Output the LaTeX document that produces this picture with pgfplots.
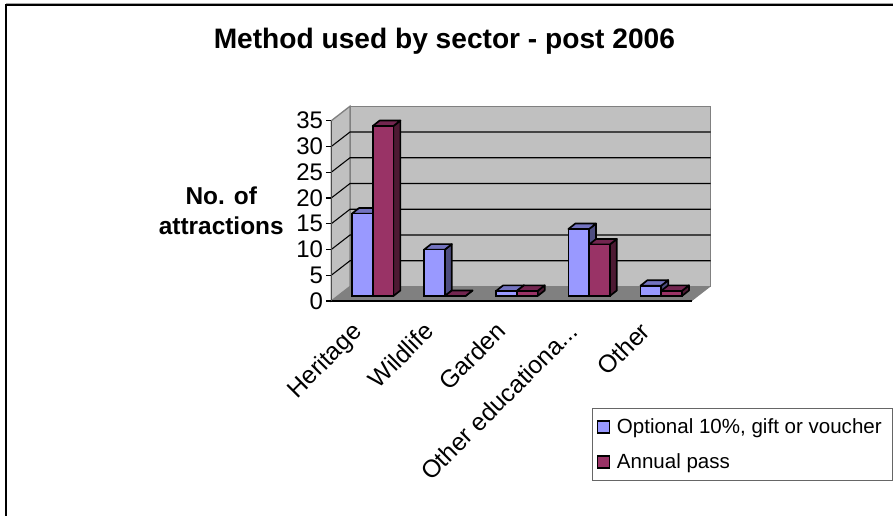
\documentclass[border=0pt]{standalone}
\usepackage{pgfplots}
\usepackage{pgfplotstable}
\usepackage{fontspec}
\setmainfont{Liberation Sans}
\pgfplotsset{compat=1.18}

\pgfplotstableread{
cat opt pass
0   16  33
1   9   0
2   1   1
3   13  10
4   2   1
}\methods

\definecolor{optfront}{HTML}{9999FF}
\definecolor{opttop}{HTML}{7373BF}
\definecolor{optside}{HTML}{4D4D80}
\definecolor{passfront}{HTML}{993366}
\definecolor{passtop}{HTML}{732650}
\definecolor{passside}{HTML}{4D1A33}
\definecolor{wall}{HTML}{C0C0C0}
\definecolor{floorgrey}{HTML}{808080}

% depth of the box, in axis units
\def\dX{0.259}\def\dY{2.81}
% depth of a bar and the raised base it stands on
\def\bX{0.097}\def\bY{1.07}\def\bZ{0.97}
\def\bW{0.287}
\def\edulabel{Other educationa...}

% top and side face of one bar: row, column, left edge offset, side colour, top colour
\newcommand{\barfaces}[5]{%
  \pgfplotstablegetelem{#1}{#2}\of\methods
  \pgfmathsetmacro{\xl}{#1+#3}%
  \pgfmathsetmacro{\xr}{\xl+\bW}%
  \pgfmathsetmacro{\xlb}{\xl+\bX}%
  \pgfmathsetmacro{\xrb}{\xr+\bX}%
  \pgfmathsetmacro{\yb}{\bZ}%
  \pgfmathsetmacro{\ybb}{\bZ+\bY}%
  \pgfmathsetmacro{\yt}{\bZ+\pgfplotsretval}%
  \pgfmathsetmacro{\ytb}{\yt+\bY}%
  \addplot[forget plot,draw=black,line width=1.25pt,fill=#4,line join=round]
    coordinates {(\xr,\yb) (\xrb,\ybb) (\xrb,\ytb) (\xr,\yt)} -- cycle;
  \addplot[forget plot,draw=black,line width=1.25pt,fill=#5,line join=round]
    coordinates {(\xl,\yt) (\xlb,\ytb) (\xrb,\ytb) (\xr,\yt)} -- cycle;
}
% one gridline across the side wall and the back wall
\newcommand{\wallgrid}[1]{%
  \pgfmathsetmacro{\yf}{#1}%
  \pgfmathsetmacro{\yk}{#1+\dY}%
  \pgfmathsetmacro{\xk}{-0.5+\dX}%
  \pgfmathsetmacro{\xe}{4.5+\dX}%
  \addplot[forget plot,black,line width=0.8pt] coordinates {(-0.5,\yf) (\xk,\yk) (\xe,\yk)};
}

\begin{document}
\begin{tikzpicture}
\useasboundingbox (0,0) rectangle (669.75pt,387pt);
\draw[black!35,line width=0.75pt] (4.5pt,384.6pt) -- (669.75pt,384.6pt);
\draw[black,line width=1.5pt] (4.5pt,383.25pt) -- (4.5pt,0pt);
\draw[black,line width=1.5pt] (3.75pt,383.25pt) -- (669.75pt,383.25pt);
\begin{axis}[
  at={(248.475pt,161.25pt)},anchor=south west,
  scale only axis,
  width=270.5pt,height=135.2pt,
  xmin=-0.5,xmax=4.5,ymin=0,ymax=35,
  clip=false,
  axis on top,
  axis x line*=bottom,
  axis y line*=left,
  axis line style={-,line width=1pt},
  y axis line style={draw=black!70},
  xtick={0,1,2,3,4},
  xticklabels={Heritage,Wildlife,Garden,\edulabel,Other},
  minor xtick={-0.5,0.5,1.5,2.5,3.5,4.5},
  ytick={0,5,10,15,20,25,30,35},
  tick align=outside,
  major tick length=4pt,
  minor tick length=4pt,
  tick style={black,line width=0.8pt},
  xtick style={draw=none},
  minor x tick style={black,line width=0.8pt},
  /pgf/number format/assume math mode=true,
  yticklabel style={font=\fontsize{18}{20}\selectfont,inner sep=1pt,xshift=-1pt},
  xticklabel style={font=\fontsize{18.5}{20}\selectfont,xshift=-12.75pt,yshift=-9pt,rotate=45,anchor=north east,inner sep=1pt},
  title={Method used by sector - post 2006},
  title style={at={(0.3135,1.395)},anchor=center,font=\fontsize{21.1}{25}\selectfont\bfseries},
  ylabel={No. of\\attractions},
  ylabel style={at={(-0.305,0.5)},anchor=center,rotate=-90,align=center,font=\fontsize{18.3}{23}\selectfont\bfseries},
  legend style={at={(0.7228,-0.595)},anchor=north west,draw=black!60,line width=0.8pt,
    font=\fontsize{15.4}{18}\selectfont,row sep=9.5pt,inner xsep=3pt,inner ysep=5.5pt,
    nodes={inner xsep=5.2pt}},
  legend cell align=left,
]
% room walls and floor
\addplot[forget plot,draw=floorgrey,line width=1pt,fill=wall] coordinates {(-0.241,2.81) (4.759,2.81) (4.759,37.81) (-0.241,37.81)} -- cycle;
\addplot[forget plot,draw=floorgrey,line width=1pt,fill=wall] coordinates {(-0.5,0) (-0.241,2.81) (-0.241,37.81) (-0.5,35)} -- cycle;
\addplot[forget plot,draw=none,fill=floorgrey] coordinates {(-0.5,0) (4.5,0) (4.759,2.81) (-0.241,2.81)} -- cycle;
\wallgrid{5}\wallgrid{10}\wallgrid{15}\wallgrid{20}\wallgrid{25}\wallgrid{30}

% first series
\barfaces{0}{opt}{-0.2135}{optside}{opttop}
\barfaces{1}{opt}{-0.2135}{optside}{opttop}
\barfaces{2}{opt}{-0.2135}{optside}{opttop}
\barfaces{3}{opt}{-0.2135}{optside}{opttop}
\barfaces{4}{opt}{-0.2135}{optside}{opttop}
\addplot[ybar,bar width=15.5pt,bar shift=-3.79pt,yshift=3.75pt,draw=black,line width=1.25pt,fill=optfront,
  legend image code/.code={\draw[black,line width=1.1pt,fill=optfront] (1.5pt,-8pt) rectangle (10.5pt,1pt);}]
  table[x=cat,y=opt]{\methods};
\addlegendentry{Optional 10\%, gift or voucher}

% second series
\barfaces{0}{pass}{0.0740}{passside}{passtop}
\barfaces{1}{pass}{0.0740}{passside}{passtop}
\barfaces{2}{pass}{0.0740}{passside}{passtop}
\barfaces{3}{pass}{0.0740}{passside}{passtop}
\barfaces{4}{pass}{0.0740}{passside}{passtop}
\addplot[ybar,bar width=15.5pt,bar shift=11.74pt,yshift=3.75pt,draw=black,line width=1.25pt,fill=passfront,
  legend image code/.code={\draw[black,line width=1.1pt,fill=passfront] (1.5pt,-8pt) rectangle (10.5pt,1pt);}]
  table[x=cat,y=pass]{\methods};
\addlegendentry{Annual pass}
\end{axis}
\end{tikzpicture}
\end{document}
